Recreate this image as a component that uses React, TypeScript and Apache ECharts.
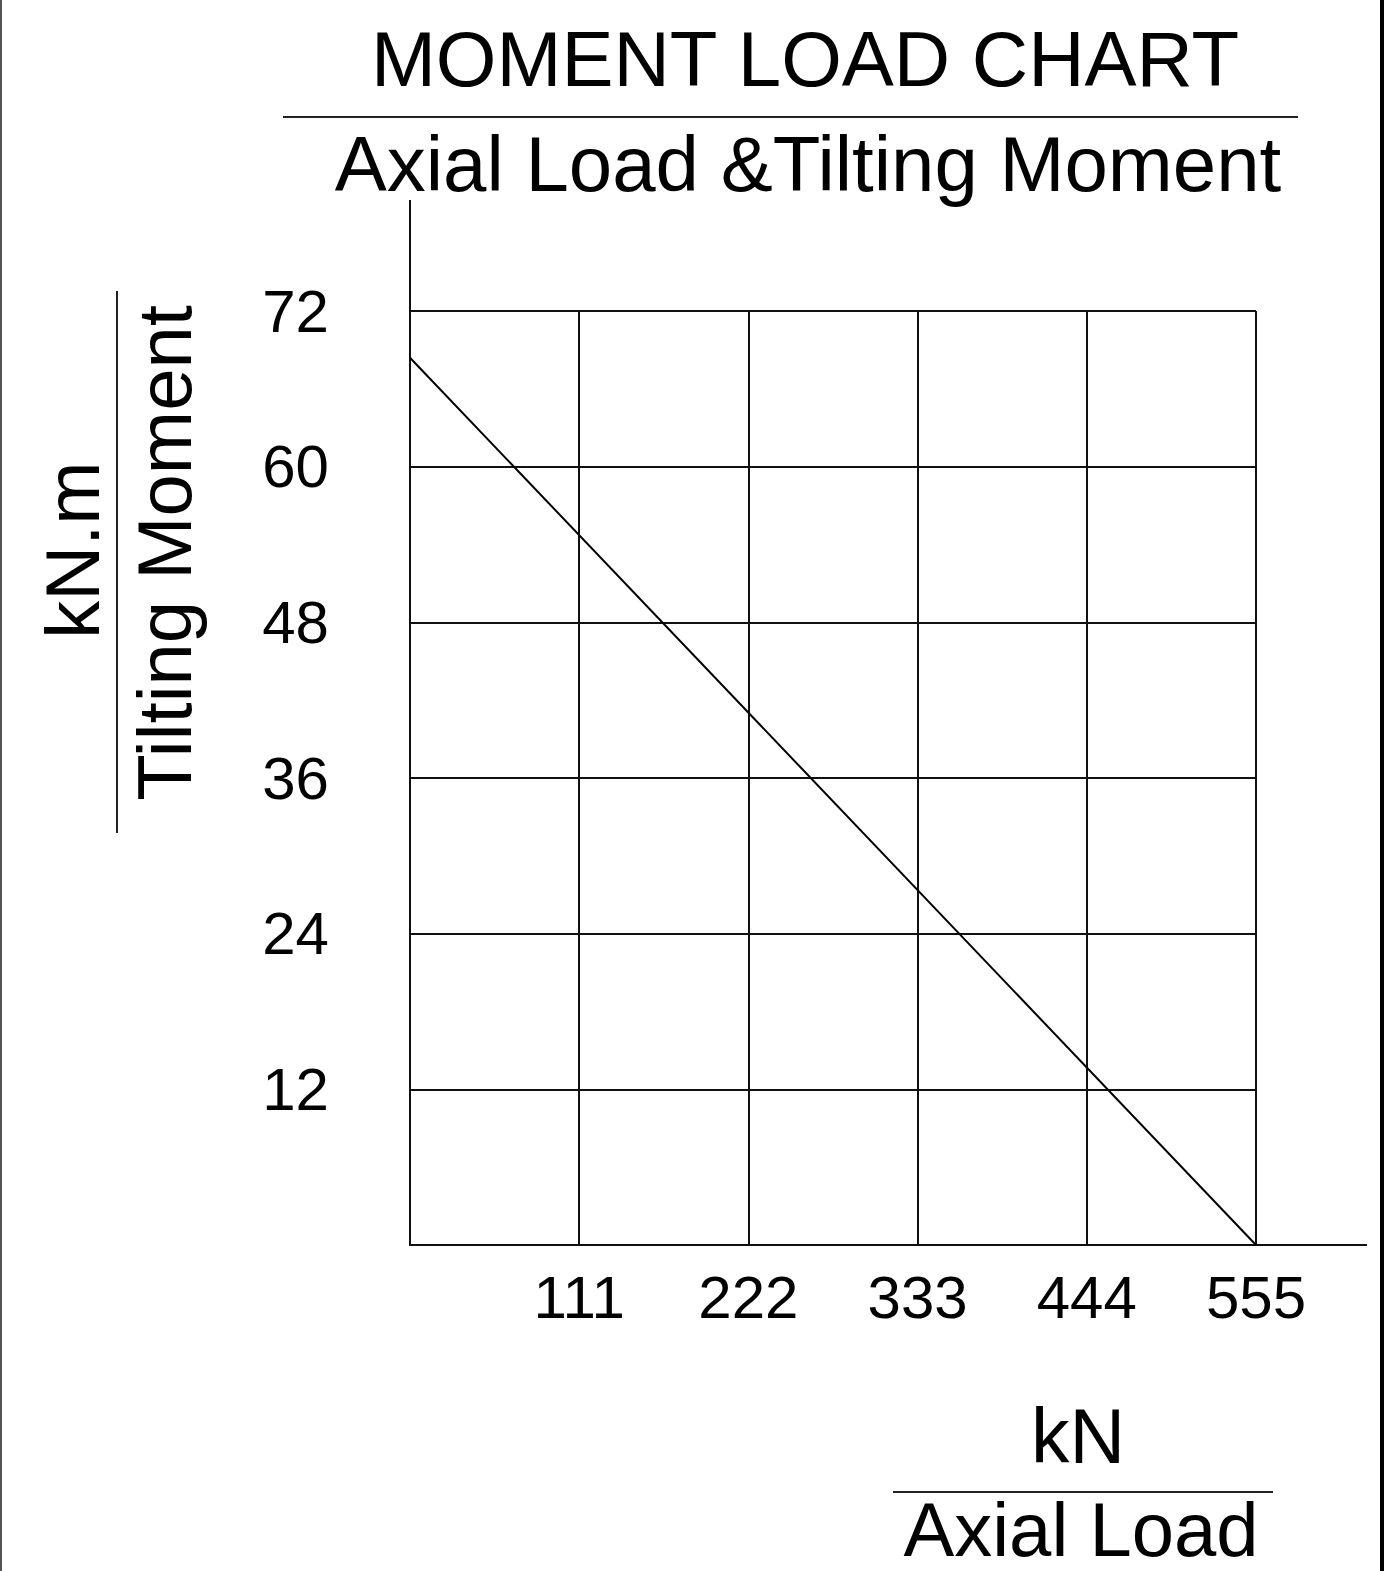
import React, { useEffect, useRef } from "react";
import * as echarts from "echarts";

const xTicks = [0, 111, 222, 333, 444, 555];
const yTicks = [0, 12, 24, 36, 48, 60, 72];
const axialLoad = [0, 555];
const tiltingMoment = [68.4, 0];

const W = 1394;
const H = 1571;
const G = { left: 410, top: 311, right: 1256, bottom: 1245 };
const FONT = "Liberation Sans, Arial, sans-serif";

export default function App() {
  const ref = useRef<HTMLDivElement>(null);
  useEffect(() => {
    const chart = echarts.init(ref.current!, null, { renderer: "svg", width: W, height: H });
    const data = axialLoad.map((x, i) => [x, tiltingMoment[i]]);
    chart.setOption({
      animation: false,
      backgroundColor: "#ffffff",
      grid: {
        left: G.left,
        top: G.top,
        width: G.right - G.left,
        height: G.bottom - G.top,
        containLabel: false,
      },
      xAxis: {
        type: "value",
        min: xTicks[0],
        max: xTicks[xTicks.length - 1],
        interval: xTicks[1] - xTicks[0],
        axisLine: { show: true, onZero: false, lineStyle: { color: "#111", width: 2 } },
        axisTick: { show: false },
        splitLine: { show: true, lineStyle: { color: "#111", width: 2 } },
        axisLabel: {
          showMinLabel: false,
          fontFamily: FONT,
          fontSize: 60,
          color: "#000",
          margin: 22,
        },
      },
      yAxis: {
        type: "value",
        min: yTicks[0],
        max: yTicks[yTicks.length - 1],
        interval: yTicks[1] - yTicks[0],
        axisLine: { show: true, onZero: false, lineStyle: { color: "#111", width: 2 } },
        axisTick: { show: false },
        splitLine: { show: true, lineStyle: { color: "#111", width: 2 } },
        axisLabel: {
          showMinLabel: false,
          fontFamily: FONT,
          fontSize: 60,
          color: "#000",
          margin: 81,
        },
      },
      series: [
        {
          type: "line",
          data,
          symbol: "none",
          lineStyle: { color: "#000", width: 2 },
          silent: true,
        },
      ],
      graphic: [
        { type: "rect", shape: { x: 0, y: 0, width: 2, height: H }, style: { fill: "#555" } },
        { type: "rect", shape: { x: 1380, y: 0, width: 4, height: H }, style: { fill: "#000" } },
        // axis extensions
        { type: "line", shape: { x1: G.left, y1: 200, x2: G.left, y2: G.top }, style: { stroke: "#111", lineWidth: 2 } },
        { type: "line", shape: { x1: G.right, y1: G.bottom, x2: 1367, y2: G.bottom }, style: { stroke: "#111", lineWidth: 2 } },
        // title
        {
          type: "text",
          x: 805,
          y: 59,
          style: { text: "MOMENT LOAD CHART", font: `78px ${FONT}`, fill: "#000", align: "center", verticalAlign: "middle" },
        },
        { type: "line", shape: { x1: 283, y1: 117, x2: 1298, y2: 117 }, style: { stroke: "#222", lineWidth: 2 } },
        {
          type: "text",
          x: 808,
          y: 164,
          style: { text: "Axial Load &Tilting Moment", font: `78px ${FONT}`, fill: "#000", align: "center", verticalAlign: "middle" },
        },
        // y axis name
        {
          type: "text",
          x: 72,
          y: 550,
          rotation: Math.PI / 2,
          style: { text: "kN.m", font: `76px ${FONT}`, fill: "#000", align: "center", verticalAlign: "middle" },
        },
        { type: "line", shape: { x1: 117, y1: 291, x2: 117, y2: 833 }, style: { stroke: "#222", lineWidth: 2 } },
        {
          type: "text",
          x: 164,
          y: 553,
          rotation: Math.PI / 2,
          style: { text: "Tilting Moment", font: `76px ${FONT}`, fill: "#000", align: "center", verticalAlign: "middle" },
        },
        // x axis name
        {
          type: "text",
          x: 1078,
          y: 1436,
          style: { text: "kN", font: `77px ${FONT}`, fill: "#000", align: "center", verticalAlign: "middle" },
        },
        { type: "line", shape: { x1: 893, y1: 1492, x2: 1273, y2: 1492 }, style: { stroke: "#222", lineWidth: 2 } },
        {
          type: "text",
          x: 1081,
          y: 1529,
          style: { text: "Axial Load", font: `76px ${FONT}`, fill: "#000", align: "center", verticalAlign: "middle" },
        },
      ],
    });
    return () => chart.dispose();
  }, []);
  return (
    <div
      ref={ref}
      style={{ position: "absolute", left: 0, top: 0, width: W, height: H, background: "#fff" }}
    />
  );
}
